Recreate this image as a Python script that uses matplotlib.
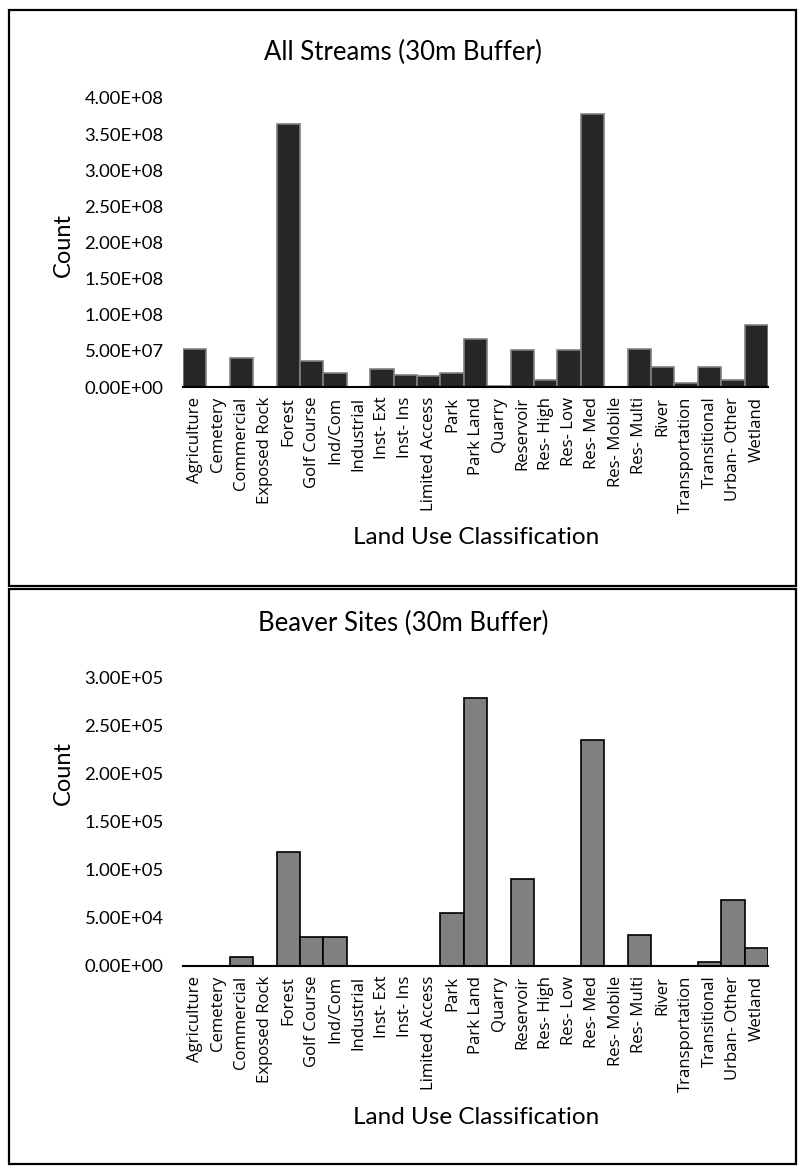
import matplotlib
matplotlib.use("Agg")
import matplotlib.pyplot as plt
from matplotlib.patches import Rectangle
from matplotlib.ticker import FixedLocator, FuncFormatter

categories = ["Agriculture", "Cemetery", "Commercial", "Exposed Rock", "Forest",
              "Golf Course", "Ind/Com", "Industrial", "Inst- Ext", "Inst- Ins",
              "Limited Access", "Park", "Park Land", "Quarry", "Reservoir",
              "Res- High", "Res- Low", "Res- Med", "Res- Mobile", "Res- Multi",
              "River", "Transportation", "Transitional", "Urban- Other", "Wetland"]

streams_counts = [5.2e7, 5.0e5, 3.95e7, 5.0e5, 3.64e8,
                  3.6e7, 2.0e7, 5.0e5, 2.55e7, 1.67e7,
                  1.57e7, 1.95e7, 6.65e7, 2.0e6, 5.15e7,
                  1.0e7, 5.15e7, 3.78e8, 5.0e5, 5.3e7,
                  2.78e7, 5.6e6, 2.78e7, 1.0e7, 8.6e7]

beaver_counts = [0, 0, 9.0e3, 0, 1.19e5,
                 3.0e4, 3.0e4, 0, 0, 0,
                 0, 5.5e4, 2.79e5, 0, 9.05e4,
                 0, 0, 2.35e5, 0, 3.25e4,
                 0, 0, 4.5e3, 6.85e4, 1.85e4]

streams_ticks = [0, 5e7, 1e8, 1.5e8, 2e8, 2.5e8, 3e8, 3.5e8, 4e8]
beaver_ticks = [0, 5e4, 1e5, 1.5e5, 2e5, 2.5e5, 3e5]

titles = ["All Streams (30m Buffer)", "Beaver Sites (30m Buffer)"]
y_label = "Count"
x_label = "Land Use Classification"

W, H = 801, 1167
fig = plt.figure(figsize=(W / 100, H / 100), dpi=100)

TXT = ["Lato", "DejaVu Sans"]
CAT = ["Open Sans", "DejaVu Sans"]


def fx(px):
    return px / W


def fy(py):
    return 1 - py / H


def sci(v, pos=None):
    return "%.2E" % v


def panel(top_px, bottom_px, data, ticks, title, fill, edge, title_off, count_off):
    fig.patches.append(Rectangle((fx(9), fy(bottom_px)), fx(796) - fx(9), fy(top_px) - fy(bottom_px),
                                 transform=fig.transFigure, fill=False,
                                 edgecolor="black", linewidth=1.6, zorder=0))
    ax_top = top_px + 88 if ticks[-1] > 1e6 else top_px + 89
    ax_bot = top_px + 377
    ax = fig.add_axes([fx(183), fy(ax_bot), fx(768) - fx(183), fy(ax_top) - fy(ax_bot)])
    x = list(range(len(categories)))
    ax.bar(x, data, width=1.0, color=fill, edgecolor=edge, linewidth=1.2, zorder=2)
    ax.set_xlim(-0.5, len(categories) - 0.5)
    ax.set_ylim(0, ticks[-1])
    ax.yaxis.set_major_locator(FixedLocator(ticks))
    ax.yaxis.set_major_formatter(FuncFormatter(sci))
    ax.set_xticks(x)
    ax.set_xticklabels(categories, rotation=90, family=CAT, fontsize=12.1)
    for lab in ax.get_yticklabels():
        lab.set_family(TXT)
        lab.set_fontsize(13.3)
    ax.tick_params(axis="y", length=0, pad=14)
    ax.tick_params(axis="x", length=0, pad=7)
    for s in ["top", "right", "left"]:
        ax.spines[s].set_visible(False)
    ax.spines["bottom"].set_linewidth(1.5)
    ax.spines["bottom"].set_zorder(3)
    ax.patch.set_alpha(0)
    fig.text(fx(403), fy(top_px + title_off), title, ha="center", va="center",
             family=TXT, fontsize=18.5)
    fig.text(fx(63), fy(top_px + count_off), y_label, ha="center", va="center",
             rotation=90, family=TXT, fontsize=17)
    fig.text(fx(476), fy(top_px + 528), x_label, ha="center", va="center",
             family=TXT, fontsize=17.5)
    return ax


panel(10, 586, streams_counts, streams_ticks, titles[0], "#262626", "#808080", 42, 235)
panel(589, 1164, beaver_counts, beaver_ticks, titles[1], "#808080", "#000000", 34, 184)

fig.savefig("out.png", dpi=100, facecolor="white")
